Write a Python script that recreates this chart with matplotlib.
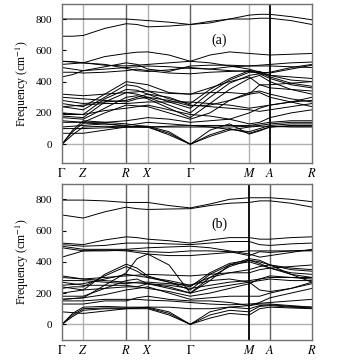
import numpy as np
import matplotlib
matplotlib.use("Agg")
import matplotlib.pyplot as plt

plt.rcParams['font.family'] = ['Liberation Serif', 'DejaVu Serif']
plt.rcParams['mathtext.fontset'] = 'stix'

# high symmetry points (fraction of path length) and labels
kpath = [0, 0.085, 0.257, 0.343, 0.513, 0.749, 0.832, 1.0]
klabels = [r'$\Gamma$', r'$Z$', r'$R$', r'$X$', r'$\Gamma$', r'$M$', r'$A$', r'$R$']
# sample points inside each segment
seg_fracs = [[0.5], [0.5], [0.5], [0.5], [1/3, 2/3], [0.5], [0.5]]

# branch values at: G m Z m R m X m G t1 t2 M m A m R  (cm^-1)
bands_a = [
    [800, 800, 800, 800, 800, 795, 790, 780, 765, 775, 800, 825, 830, 830, 815, 795],
    [690, 690, 695, 740, 770, 765, 750, 755, 765, 785, 800, 800, 805, 805, 790, 765],
    [530, 525, 520, 560, 580, 588, 590, 570, 530, 570, 590, 580, 575, 570, 575, 580],
    [530, 528, 520, 505, 500, 505, 510, 520, 530, 520, 500, 480, 460, 455, 480, 505],
    [510, 515, 520, 510, 485, 470, 465, 475, 490, 480, 470, 465, 455, 460, 490, 510],
    [490, 480, 470, 495, 520, 510, 480, 465, 500, 505, 505, 500, 505, 510, 520, 525],
    [430, 445, 470, 480, 490, 495, 500, 495, 485, 480, 495, 500, 500, 500, 495, 490],
    [460, 460, 455, 460, 470, 480, 470, 455, 450, 460, 465, 470, 450, 440, 430, 420],
    [0, 60, 110, 115, 110, 112, 110, 60, 0, 50, 90, 110, 115, 115, 110, 110],
    [0, 80, 135, 130, 115, 112, 110, 70, 0, 60, 100, 70, 90, 110, 115, 115],
    [0, 90, 150, 140, 130, 120, 115, 80, 0, 90, 130, 65, 85, 110, 120, 120],
    [70, 70, 70, 90, 110, 110, 110, 115, 120, 110, 95, 80, 100, 120, 130, 130],
    [150, 145, 140, 200, 250, 245, 240, 200, 160, 200, 280, 330, 340, 320, 290, 270],
    [170, 165, 160, 230, 300, 310, 290, 230, 170, 260, 350, 420, 440, 400, 350, 320],
    [180, 175, 170, 270, 330, 320, 300, 250, 200, 300, 390, 440, 450, 420, 380, 360],
    [200, 195, 190, 290, 350, 345, 320, 270, 230, 330, 410, 460, 460, 430, 390, 370],
    [240, 230, 220, 300, 380, 370, 340, 290, 260, 350, 420, 470, 465, 440, 410, 400],
    [260, 250, 240, 320, 400, 390, 380, 330, 320, 360, 400, 430, 380, 360, 350, 340],
    [280, 270, 260, 270, 280, 300, 320, 300, 250, 240, 230, 220, 210, 220, 240, 260],
    [300, 295, 290, 280, 270, 290, 300, 280, 245, 250, 280, 320, 330, 300, 270, 240],
    [320, 315, 310, 320, 330, 335, 340, 325, 320, 330, 330, 320, 380, 380, 390, 400],
    [240, 245, 250, 260, 260, 265, 270, 270, 270, 260, 250, 230, 240, 250, 270, 300],
    [140, 140, 140, 140, 150, 160, 170, 160, 140, 150, 160, 200, 230, 250, 270, 280],
    [110, 115, 120, 130, 120, 130, 140, 130, 120, 120, 120, 120, 130, 140, 150, 150],
    [190, 190, 190, 215, 230, 240, 250, 220, 190, 180, 160, 130, 140, 170, 200, 220],
    [100, 100, 100, 105, 110, 110, 110, 110, 110, 110, 110, 115, 120, 130, 140, 140],
]

bands_b = [
    [795, 795, 795, 790, 780, 780, 780, 760, 745, 770, 800, 810, 810, 810, 800, 785],
    [700, 690, 680, 720, 750, 740, 735, 738, 740, 760, 775, 780, 790, 790, 775, 750],
    [520, 515, 510, 540, 560, 555, 545, 535, 520, 540, 555, 555, 545, 545, 555, 560],
    [510, 505, 500, 505, 520, 520, 520, 515, 510, 520, 530, 530, 510, 505, 515, 520],
    [500, 490, 480, 480, 480, 485, 490, 495, 500, 490, 470, 450, 430, 440, 460, 480],
    [490, 480, 470, 470, 475, 470, 465, 460, 470, 470, 465, 440, 465, 460, 470, 475],
    [430, 450, 470, 475, 470, 460, 450, 440, 440, 450, 460, 470, 470, 470, 470, 470],
    [0, 50, 90, 100, 100, 100, 100, 60, 0, 40, 70, 60, 100, 110, 105, 100],
    [0, 60, 100, 105, 105, 105, 105, 70, 0, 60, 90, 80, 115, 120, 110, 105],
    [0, 70, 110, 115, 110, 110, 110, 80, 0, 80, 110, 100, 120, 125, 115, 110],
    [80, 75, 70, 85, 100, 105, 110, 110, 100, 100, 110, 120, 130, 130, 120, 110],
    [150, 150, 150, 160, 160, 160, 155, 150, 140, 130, 125, 130, 135, 140, 150, 160],
    [160, 165, 170, 250, 330, 420, 450, 380, 200, 280, 380, 420, 410, 380, 320, 270],
    [180, 180, 180, 230, 280, 290, 260, 230, 200, 300, 370, 410, 390, 360, 320, 300],
    [200, 210, 220, 320, 385, 360, 310, 270, 220, 320, 380, 400, 380, 360, 330, 320],
    [230, 240, 240, 310, 370, 340, 300, 270, 240, 330, 390, 410, 400, 380, 350, 340],
    [250, 255, 260, 290, 320, 310, 300, 280, 250, 300, 330, 350, 370, 380, 360, 350],
    [280, 280, 280, 270, 260, 270, 270, 260, 250, 280, 290, 270, 220, 210, 230, 270],
    [300, 295, 290, 280, 270, 265, 260, 250, 230, 250, 270, 280, 290, 300, 300, 300],
    [310, 300, 290, 300, 310, 315, 320, 315, 310, 320, 330, 330, 350, 360, 370, 380],
    [160, 165, 170, 190, 220, 230, 240, 200, 160, 170, 180, 180, 180, 200, 230, 260],
    [130, 130, 130, 150, 150, 170, 180, 160, 150, 150, 140, 120, 140, 170, 200, 230],
    [240, 230, 220, 230, 240, 240, 260, 240, 200, 230, 250, 270, 280, 290, 280, 280],
    [270, 260, 250, 250, 250, 240, 230, 210, 180, 200, 230, 260, 290, 310, 300, 290],
]

# x positions of the samples along the path
kx = [kpath[0]]
for i in range(len(kpath) - 1):
    for f in seg_fracs[i]:
        kx.append(kpath[i] + f * (kpath[i + 1] - kpath[i]))
    kx.append(kpath[i + 1])
kx = np.array(kx)

grey, dark = '#b0b0b0', '#606060'
vcolors_a = [None, grey, dark, grey, dark, grey, 'black', None]
vcolors_b = [None, grey, dark, dark, grey, 'black', dark, None]

fig = plt.figure(figsize=(3.38, 3.60), dpi=100)
ax_a = fig.add_axes([0.1834, 0.5472, 0.7397, 0.4417])
ax_b = fig.add_axes([0.1834, 0.0556, 0.7397, 0.4333])

for ax, bands, vcols, tag, ylim, tagy in [
        (ax_a, bands_a, vcolors_a, '(a)', (-120, 896), 0.77),
        (ax_b, bands_b, vcolors_b, '(b)', (-100, 898), 0.74)]:
    ax.axhline(0, color=grey, lw=1.0, zorder=1)
    for k, c in zip(kpath, vcols):
        if c is not None:
            ax.axvline(k, color=c, lw=1.3 if c == 'black' else 1.0, zorder=1)
    for b in bands:
        ax.plot(kx, b, color='black', lw=0.7, zorder=2)
    ax.set_xlim(0, 1)
    ax.set_ylim(*ylim)
    ax.set_xticks(kpath)
    ax.set_xticklabels(klabels, fontsize=9)
    ax.set_yticks([0, 200, 400, 600, 800])
    ax.tick_params(axis='y', direction='in', length=3, pad=7, labelsize=8)
    ax.tick_params(axis='x', length=0, pad=3)
    ax.set_ylabel('Frequency (cm$^{-1}$)', fontsize=8.5, labelpad=3)
    for s in ax.spines.values():
        s.set_color('#707070')
        s.set_linewidth(1.0)
    ax.text(0.63, tagy, tag, transform=ax.transAxes, fontsize=10,
            ha='center', va='center')

fig.savefig('out.png', dpi=100)
